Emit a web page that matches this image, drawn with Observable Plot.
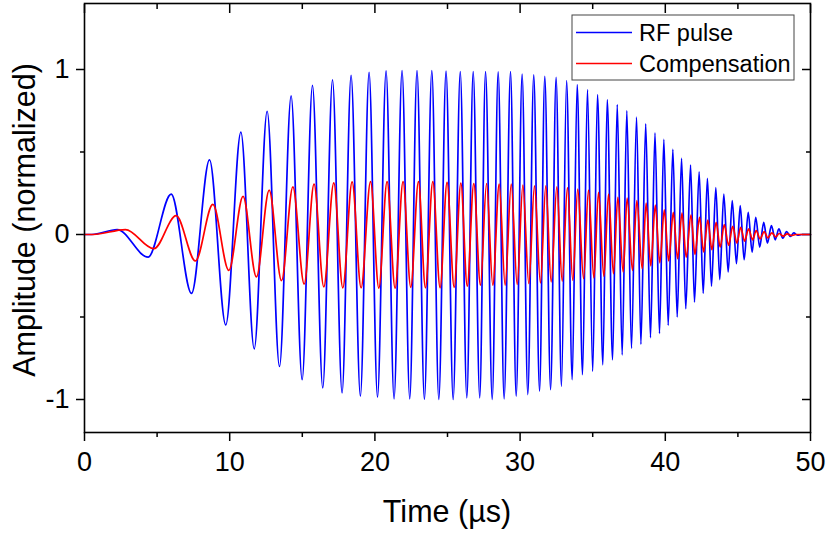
<!DOCTYPE html>
<html><head><meta charset="utf-8">
<script src="https://cdn.jsdelivr.net/npm/d3@7"></script>
<script src="https://cdn.jsdelivr.net/npm/@observablehq/plot@0.6"></script>
<style>body{margin:0;background:#fff;} #chart{position:relative;width:830px;height:533px;}</style>
</head><body><div id="chart"></div>
<script>
// RF pulse: extrema (time in µs, normalized amplitude)
const rfTime = [0,0.5,2.25,4.38,5.97,7.37,8.61,9.73,10.77,11.69,12.58,13.43,14.23,14.99,15.70,16.41,17.08,17.74,18.36,19.0,19.6,20.18,20.77,21.32,21.87,22.4,22.9,23.41,23.92,24.4,24.9,25.39,25.88,26.33,26.77,27.22,27.62,28.08,28.49,28.9,29.34,29.73,30.14,30.53,30.94,31.34,31.7,32.1,32.48,32.85,33.2,33.59,33.93,34.3,34.64,35.0,35.33,35.7,36.0,36.37,36.69,37.03,37.35,37.67,38.02,38.32,38.65,38.98,39.29,39.6,39.9,40.2,40.52,40.82,41.12,41.41,41.74,42.01,42.33,42.61,42.9,43.18,43.48,43.75,44.03,44.33,44.61,44.9,45.16,45.43,45.71,45.98,46.23,46.5,46.78,47.03,47.31,47.57,47.82,48.09,48.35,48.62,48.85,49.1,49.4,50];
const rfAmp = [0,0,0.03,-0.137,0.245,-0.357,0.452,-0.548,0.62,-0.693,0.747,-0.80,0.84,-0.88,0.904,-0.93,0.938,-0.96,0.964,-0.98,0.982,-0.986,0.992,-0.996,0.994,-0.996,0.994,-1.0,0.994,-1.0,0.99,-1.0,0.988,-0.99,0.988,-0.99,0.988,-1.0,0.985,-0.996,0.988,-0.98,0.972,-0.97,0.968,-0.95,0.958,-0.94,0.952,-0.92,0.932,-0.88,0.908,-0.85,0.878,-0.83,0.848,-0.79,0.817,-0.76,0.787,-0.73,0.751,-0.69,0.711,-0.665,0.671,-0.625,0.616,-0.6,0.576,-0.55,0.516,-0.5,0.462,-0.45,0.42,-0.41,0.38,-0.357,0.34,-0.313,0.285,-0.273,0.245,-0.227,0.205,-0.177,0.175,-0.153,0.134,-0.107,0.104,-0.076,0.074,-0.052,0.054,-0.032,0.034,-0.022,0.018,-0.012,0.01,-0.004,0,0];
// Compensation: extrema
const compTime = [0,0.6,2.82,4.78,6.31,7.64,8.84,9.94,10.92,11.84,12.72,13.57,14.35,15.13,15.81,16.48,17.17,17.79,18.43,19.05,19.70,20.27,20.84,21.39,21.94,22.47,23.0,23.48,23.99,24.49,24.97,25.46,25.92,26.36,26.81,27.27,27.69,28.12,28.56,28.97,29.39,29.8,30.19,30.6,30.99,31.4,31.77,32.14,32.53,32.9,33.26,33.63,33.97,34.37,34.71,35.08,35.4,35.77,36.09,36.43,36.73,37.1,37.37,37.74,38.04,38.41,38.68,39.0,39.31,39.62,39.93,40.23,40.55,40.85,41.15,41.44,41.77,42.04,42.36,42.64,42.93,43.21,43.5,43.78,44.06,44.36,44.64,44.93,45.19,45.46,45.74,46.01,46.26,46.53,46.81,47.06,47.34,47.6,47.85,48.12,48.4,48.7,49.0,50];
const compAmp = [0,0,0.03,-0.086,0.114,-0.16,0.183,-0.217,0.231,-0.257,0.269,-0.28,0.289,-0.30,0.305,-0.317,0.313,-0.323,0.319,-0.323,0.32,-0.325,0.32,-0.325,0.32,-0.32,0.32,-0.323,0.32,-0.323,0.316,-0.32,0.312,-0.313,0.309,-0.307,0.309,-0.307,0.305,-0.307,0.305,-0.303,0.299,-0.297,0.295,-0.293,0.295,-0.287,0.289,-0.283,0.285,-0.277,0.275,-0.267,0.269,-0.263,0.255,-0.253,0.245,-0.237,0.225,-0.227,0.221,-0.217,0.205,-0.207,0.19,-0.19,0.178,-0.172,0.149,-0.16,0.135,-0.147,0.13,-0.137,0.118,-0.12,0.104,-0.106,0.088,-0.092,0.074,-0.076,0.06,-0.066,0.05,-0.052,0.044,-0.04,0.034,-0.032,0.024,-0.026,0.018,-0.02,0.01,-0.014,0.006,-0.01,0.004,-0.006,0,0];

const xTicks = [0,10,20,30,40,50];
const xMinor = [5,15,25,35,45];
const yTicks = [-1,0,1];
const yMinor = [-0.5,0.5];
const seriesNames = ["RF pulse","Compensation"];
const seriesColors = ["#0000ff","#ff0000"];
const xTitle = "Time (µs)";
const yTitle = "Amplitude (normalized)";

const rf = rfTime.map((t,i)=>({t, v: rfAmp[i]}));
const comp = compTime.map((t,i)=>({t, v: compAmp[i]}));
const FONT = "Liberation Sans, Arial, Helvetica, sans-serif";
const fmt = d => d < 0 ? "-" + Math.abs(d) : String(d);
const blank = () => "";

const plot = Plot.plot({
  width: 830, height: 533,
  marginLeft: 84, marginRight: 20, marginTop: 3, marginBottom: 101,
  style: {fontFamily: FONT, background: "white", overflow: "visible"},
  x: {domain: [0, 50]},
  y: {domain: [-1.2, 1.4]},
  marks: [
    Plot.axisX(xTicks, {anchor: "bottom", tickSize: 9, tickPadding: 10, tickFormat: fmt, fontSize: 27, label: null, strokeWidth: 1.5}),
    Plot.axisX(xMinor, {anchor: "bottom", tickSize: 5, tickFormat: blank, label: null, strokeWidth: 1.5}),
    Plot.axisX(xTicks, {anchor: "top", tickSize: 9, dy: 9, tickFormat: blank, label: null, strokeWidth: 1.5}),
    Plot.axisX(xMinor, {anchor: "top", tickSize: 5, dy: 5, tickFormat: blank, label: null, strokeWidth: 1.5}),
    Plot.axisY(yTicks, {anchor: "left", tickSize: 8, tickPadding: 7, tickFormat: fmt, fontSize: 27, label: null, strokeWidth: 1.5}),
    Plot.axisY(yMinor, {anchor: "left", tickSize: 4, tickFormat: blank, label: null, strokeWidth: 1.5}),
    Plot.axisY(yTicks, {anchor: "right", tickSize: 9, dx: -9, tickFormat: blank, label: null, strokeWidth: 1.5}),
    Plot.axisY(yMinor, {anchor: "right", tickSize: 5, dx: -5, tickFormat: blank, label: null, strokeWidth: 1.5}),
    Plot.line(rf, {x: "t", y: "v", stroke: seriesColors[0], strokeWidth: 1.7, curve: "monotone-x"}),
    Plot.line(comp, {x: "t", y: "v", stroke: seriesColors[1], strokeWidth: 1.7, curve: "monotone-x"}),
    Plot.frame({stroke: "black", strokeWidth: 1.6})
  ]
});
document.getElementById("chart").appendChild(plot);

const svg = d3.select(plot);
// Axis titles
svg.append("text").attr("x", 447).attr("y", 522).attr("text-anchor", "middle")
  .attr("font-family", FONT).attr("font-size", 30.5).attr("fill", "black").text(xTitle);
svg.append("text").attr("transform", "translate(35,220) rotate(-90)").attr("text-anchor", "middle")
  .attr("font-family", FONT).attr("font-size", 30.5).attr("fill", "black").text(yTitle);
// Legend
const lg = svg.append("g");
lg.append("rect").attr("x", 572).attr("y", 15).attr("width", 222).attr("height", 65)
  .attr("fill", "white").attr("stroke", "#444").attr("stroke-width", 1);
seriesNames.forEach((name, i) => {
  const y = 32.5 + i * 31;
  lg.append("line").attr("x1", 576).attr("x2", 632).attr("y1", y).attr("y2", y)
    .attr("stroke", seriesColors[i]).attr("stroke-width", 1.6);
  lg.append("text").attr("x", 639).attr("y", y).attr("dy", "0.35em").attr("text-anchor", "start")
    .attr("font-family", FONT).attr("font-size", 23.5).attr("fill", "black").text(name);
});
</script>
</body></html>
